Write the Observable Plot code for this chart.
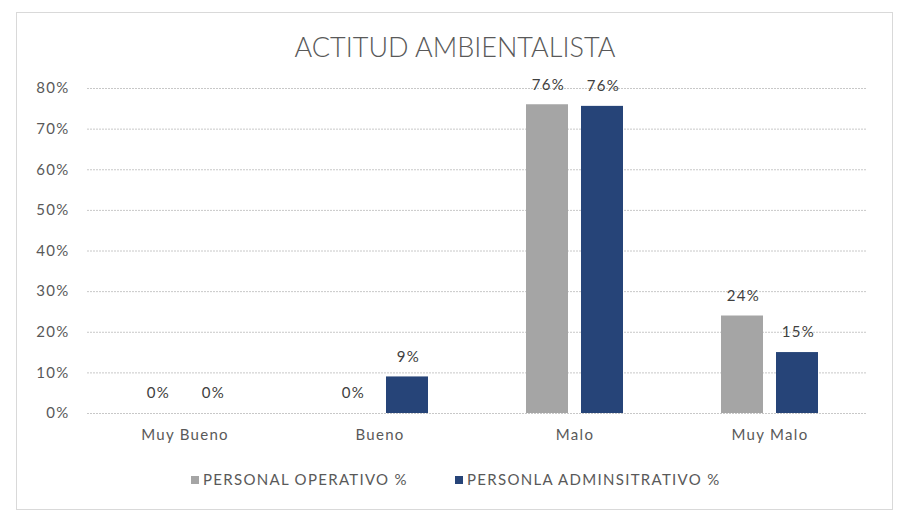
<!DOCTYPE html>
<html>
<head>
<meta charset="utf-8">
<script src="https://cdn.jsdelivr.net/npm/d3@7"></script>
<script src="https://cdn.jsdelivr.net/npm/@observablehq/plot@0.6"></script>
<style>
  html, body { margin: 0; padding: 0; background: #fff; }
  body { width: 898px; height: 515px; position: relative; overflow: hidden; font-family: Lato, "Open Sans", sans-serif; }
  #frame { position: absolute; left: 16px; top: 12px; width: 877px; height: 498px; border: 1px solid #d9d9d9; box-sizing: border-box; }
  #title { position: absolute; left: 0; width: 910px; top: 30px; text-align: center; font-size: 27px; font-weight: 300; color: #595959; line-height: 34px; }
  #chart { position: absolute; left: 0; top: 70px; }
  .leg { position: absolute; top: 470px; font-size: 15px; letter-spacing: 1.3px; color: #595959; line-height: 18px; white-space: nowrap; }
  .sw { display: inline-block; width: 8px; height: 8px; margin-right: 4px; vertical-align: 1px; }
</style>
</head>
<body>
<div id="frame"></div>
<div id="title">ACTITUD AMBIENTALISTA</div>
<div id="chart"></div>
<div class="leg" style="left:191px"><span class="sw" style="background:#a5a5a5"></span>PERSONAL OPERATIVO %</div>
<div class="leg" style="left:455px"><span class="sw" style="background:#264478"></span>PERSONLA ADMINSITRATIVO %</div>
<script>
const categories = ["Muy Bueno", "Bueno", "Malo", "Muy Malo"];
const seriesNames = ["PERSONAL OPERATIVO %", "PERSONLA ADMINSITRATIVO %"];
const operativo = [0, 0, 0.76, 0.24];
const administrativo = [0, 0.09, 0.756, 0.15];
const yTicks = [0, 0.1, 0.2, 0.3, 0.4, 0.5, 0.6, 0.7, 0.8];
const colors = ["#a5a5a5", "#264478"];

const data = [];
categories.forEach((c, i) => {
  data.push({cat: c, series: seriesNames[0], value: operativo[i]});
  data.push({cat: c, series: seriesNames[1], value: administrativo[i]});
});
const fmt = d3.format(".0%");

const chart = Plot.plot({
  width: 898,
  height: 390,
  marginLeft: 85,
  marginRight: 30,
  marginTop: 18,
  marginBottom: 47,
  style: {fontFamily: "Lato, 'Open Sans', sans-serif", fontSize: "15px", letterSpacing: "1.3px", color: "#595959", background: "transparent"},
  fx: {domain: categories, padding: 0, axis: "bottom", tickSize: 0, tickPadding: 16, label: null},
  x: {domain: seriesNames, paddingInner: 0.232, paddingOuter: 0.866, axis: null},
  y: {domain: [0, 0.8], ticks: yTicks, tickFormat: fmt, tickSize: 0, tickPadding: 18, label: null},
  color: {domain: seriesNames, range: colors},
  marks: [
    Plot.ruleY(yTicks, {stroke: "#c8c8c8", strokeDasharray: "2,1", strokeWidth: 1}),
    Plot.barY(data, {fx: "cat", x: "series", y: "value", fill: "series"}),
    Plot.text(data, {fx: "cat", x: "series", y: "value", text: d => fmt(d.value), dy: -20, dx: 1, fill: "#404040", fontSize: 15})
  ]
});
document.getElementById("chart").appendChild(chart);
</script>
</body>
</html>
